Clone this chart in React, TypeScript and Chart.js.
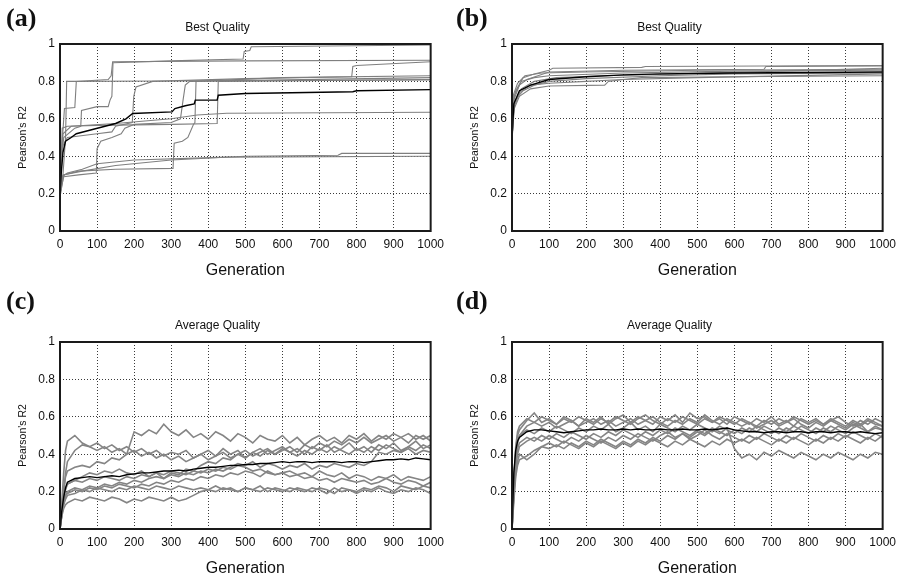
import React, { useEffect, useRef } from "react";
import { Chart, registerables } from "chart.js";

Chart.register(...registerables);

const FONT = "'Liberation Sans', Arial, sans-serif";

// ---------- Panel (a): Best Quality (runs as [generation, R2] pairs) ----------
const aMean = [[0,0.2],[3,0.3],[8,0.42],[15,0.48],[30,0.5],[44,0.52],[98,0.548],[150,0.575],[178,0.6],[196,0.628],[302,0.637],[310,0.655],[338,0.67],[362,0.68],[365,0.70],[424,0.70],[427,0.726],[500,0.735],[790,0.745],[800,0.75],[1000,0.756]];
const aRun1 = [[0,0.2],[8,0.3],[15,0.5],[18,0.8],[300,0.802],[700,0.805],[1000,0.808]];
const aRun2 = [[0,0.15],[5,0.4],[10,0.5],[40,0.55],[56,0.56],[58,0.645],[100,0.665],[130,0.665],[135,0.70],[140,0.72],[143,0.9],[300,0.91],[494,0.92],[497,0.96],[512,0.965],[516,0.985],[1000,0.995]];
const aRun3 = [[0,0.22],[5,0.45],[12,0.655],[40,0.66],[44,0.8],[130,0.81],[138,0.83],[142,0.905],[500,0.91],[1000,0.913]];
const aRun4 = [[0,0.2],[6,0.45],[20,0.5],[100,0.52],[140,0.53],[150,0.56],[195,0.58],[199,0.72],[205,0.77],[250,0.8],[500,0.815],[787,0.825],[790,0.88],[800,0.885],[1000,0.905]];
const aRun5 = [[0,0.18],[10,0.3],[50,0.32],[150,0.33],[305,0.335],[308,0.47],[330,0.48],[345,0.5],[360,0.57],[364,0.58],[367,0.8],[600,0.82],[1000,0.83]];
const aRun6 = [[0,0.2],[10,0.29],[50,0.3],[98,0.31],[100,0.44],[110,0.48],[140,0.5],[165,0.52],[175,0.55],[200,0.57],[300,0.58],[325,0.6],[332,0.7],[338,0.78],[350,0.8],[1000,0.82]];
const aRun7 = [[0,0.2],[6,0.55],[20,0.56],[100,0.565],[300,0.57],[424,0.575],[427,0.8],[1000,0.81]];
const aRun8 = [[0,0.22],[8,0.52],[30,0.56],[150,0.575],[300,0.6],[370,0.62],[450,0.63],[1000,0.635]];
const aRun9 = [[0,0.17],[5,0.29],[20,0.31],[60,0.33],[100,0.36],[200,0.38],[450,0.395],[1000,0.40]];
const aRun10 = [[0,0.2],[8,0.3],[60,0.32],[150,0.35],[300,0.38],[500,0.4],[750,0.405],[760,0.415],[1000,0.415]];

// ---------- Panel (b): Best Quality ----------
const bMean = [[0,0.5],[5,0.68],[20,0.75],[50,0.78],[100,0.81],[200,0.825],[300,0.835],[400,0.84],[600,0.845],[1000,0.85]];
const bRun1 = [[0,0.5],[3,0.68],[10,0.75],[30,0.82],[60,0.84],[100,0.86],[110,0.87],[350,0.875],[360,0.88],[1000,0.885]];
const bRun2 = [[0,0.52],[5,0.7],[20,0.78],[40,0.81],[100,0.85],[300,0.86],[680,0.865],[685,0.88],[1000,0.883]];
const bRun3 = [[0,0.48],[5,0.65],[20,0.72],[50,0.76],[100,0.775],[250,0.78],[260,0.8],[300,0.81],[350,0.82],[600,0.825],[1000,0.83]];
const bRun4 = [[0,0.55],[5,0.72],[25,0.8],[60,0.82],[100,0.83],[300,0.845],[600,0.855],[1000,0.86]];
const bRun5 = [[0,0.5],[8,0.7],[30,0.75],[60,0.78],[100,0.8],[200,0.815],[400,0.83],[600,0.84],[1000,0.845]];
const bRun6 = [[0,0.53],[4,0.73],[15,0.79],[35,0.83],[80,0.845],[200,0.85],[500,0.86],[1000,0.865]];
const bRun7 = [[0,0.5],[6,0.68],[20,0.74],[50,0.78],[100,0.79],[200,0.8],[300,0.81],[500,0.82],[1000,0.84]];
const bRun8 = [[0,0.47],[5,0.66],[25,0.76],[60,0.8],[120,0.82],[250,0.83],[450,0.84],[1000,0.87]];

// ---------- Panels (c), (d): Average Quality, sampled generations ----------
const noisyGens = [0,5,10,15,
  20,40,60,80,100,120,140,160,180,200,
  220,240,260,280,300,320,340,360,380,400,
  420,440,460,480,500,520,540,560,580,600,
  620,640,660,680,700,720,740,760,780,800,
  820,840,860,880,900,920,940,960,980,1000];

const cMean = [0,0.10,0.17,0.22,
  0.25,0.27,0.275,0.28,0.275,0.28,0.285,0.28,0.29,0.295,
  0.30,0.30,0.305,0.31,0.31,0.315,0.31,0.32,0.325,0.33,
  0.33,0.335,0.34,0.34,0.345,0.345,0.35,0.35,0.355,0.36,
  0.355,0.36,0.36,0.355,0.36,0.36,0.36,0.355,0.36,0.36,
  0.355,0.36,0.365,0.37,0.37,0.375,0.37,0.38,0.375,0.37];
const cRun1 = [0,0.15,0.3,0.42,
  0.47,0.50,0.46,0.44,0.46,0.43,0.45,0.42,0.44,0.41,
  0.43,0.40,0.42,0.39,0.41,0.40,0.42,0.38,0.40,0.42,
  0.39,0.43,0.40,0.42,0.38,0.41,0.43,0.40,0.42,0.44,
  0.41,0.43,0.40,0.44,0.42,0.45,0.41,0.43,0.46,0.42,
  0.44,0.41,0.45,0.43,0.46,0.42,0.44,0.47,0.43,0.45];
const cRun2 = [0,0.12,0.22,0.28,
  0.31,0.33,0.34,0.33,0.36,0.35,0.38,0.37,0.40,0.52,
  0.50,0.53,0.51,0.56,0.52,0.50,0.53,0.49,0.51,0.48,
  0.52,0.50,0.47,0.51,0.49,0.46,0.50,0.48,0.47,0.50,
  0.46,0.49,0.45,0.48,0.50,0.47,0.49,0.46,0.50,0.48,
  0.51,0.47,0.50,0.48,0.51,0.49,0.46,0.50,0.48,0.50];
const cRun3 = [0,0.08,0.18,0.30,
  0.36,0.42,0.45,0.44,0.42,0.44,0.41,0.43,0.40,0.42,
  0.39,0.41,0.38,0.40,0.37,0.39,0.36,0.38,0.40,0.37,
  0.39,0.41,0.38,0.40,0.42,0.39,0.41,0.43,0.40,0.42,
  0.44,0.41,0.45,0.43,0.46,0.44,0.47,0.45,0.48,0.46,
  0.49,0.46,0.48,0.50,0.47,0.49,0.51,0.48,0.50,0.47];
const cRun4 = [0,0.08,0.14,0.18,
  0.20,0.22,0.21,0.23,0.22,0.24,0.23,0.25,0.24,0.26,
  0.25,0.27,0.28,0.27,0.30,0.29,0.32,0.31,0.34,0.36,
  0.35,0.38,0.37,0.40,0.38,0.41,0.39,0.42,0.40,0.43,
  0.41,0.39,0.42,0.40,0.43,0.41,0.44,0.42,0.40,0.43,
  0.41,0.44,0.42,0.45,0.43,0.41,0.44,0.42,0.45,0.43];
const cRun5 = [0,0.09,0.15,0.18,
  0.19,0.21,0.20,0.22,0.21,0.23,0.22,0.24,0.23,0.22,
  0.24,0.23,0.25,0.24,0.26,0.25,0.27,0.26,0.28,0.27,
  0.29,0.28,0.30,0.29,0.31,0.30,0.28,0.31,0.29,0.30,
  0.31,0.29,0.30,0.28,0.31,0.29,0.28,0.30,0.27,0.29,
  0.28,0.26,0.28,0.27,0.29,0.26,0.28,0.27,0.26,0.28];
const cRun6 = [0,0.07,0.11,0.13,
  0.14,0.16,0.15,0.17,0.16,0.15,0.17,0.16,0.14,0.16,
  0.15,0.17,0.16,0.15,0.17,0.15,0.16,0.18,0.20,0.21,
  0.20,0.22,0.21,0.20,0.22,0.21,0.20,0.22,0.21,0.20,
  0.22,0.21,0.20,0.22,0.21,0.19,0.22,0.20,0.21,0.19,
  0.21,0.20,0.22,0.20,0.19,0.21,0.20,0.22,0.21,0.19];
const cRun7 = [0,0.08,0.13,0.16,
  0.18,0.19,0.21,0.20,0.22,0.21,0.20,0.22,0.21,0.23,
  0.22,0.21,0.23,0.22,0.21,0.23,0.22,0.21,0.22,0.21,
  0.23,0.21,0.22,0.20,0.22,0.21,0.23,0.20,0.22,0.21,
  0.20,0.22,0.21,0.20,0.22,0.21,0.19,0.22,0.21,0.20,
  0.22,0.21,0.23,0.22,0.20,0.23,0.22,0.21,0.23,0.22];
const cRun8 = [0,0.1,0.18,0.22,
  0.24,0.26,0.28,0.30,0.29,0.31,0.30,0.32,0.30,0.29,
  0.31,0.28,0.30,0.27,0.29,0.28,0.30,0.29,0.31,0.30,
  0.32,0.31,0.33,0.35,0.34,0.36,0.33,0.35,0.34,0.32,
  0.34,0.33,0.35,0.32,0.34,0.33,0.35,0.34,0.33,0.35,
  0.34,0.36,0.41,0.40,0.42,0.41,0.43,0.40,0.42,0.41];
const cRun9 = [0,0.1,0.17,0.21,
  0.24,0.26,0.25,0.27,0.26,0.28,0.27,0.26,0.28,0.27,
  0.29,0.28,0.30,0.29,0.31,0.30,0.29,0.31,0.30,0.32,
  0.31,0.33,0.32,0.34,0.33,0.31,0.32,0.30,0.29,0.30,
  0.28,0.29,0.27,0.28,0.26,0.27,0.25,0.27,0.26,0.25,
  0.26,0.24,0.25,0.27,0.25,0.24,0.26,0.25,0.23,0.25];

const dMean = [0,0.3,0.42,0.47,
  0.49,0.52,0.53,0.53,0.525,0.52,0.515,0.52,0.525,0.53,
  0.53,0.535,0.53,0.53,0.535,0.53,0.535,0.53,0.53,0.535,
  0.53,0.53,0.535,0.53,0.53,0.535,0.53,0.535,0.54,0.53,
  0.525,0.52,0.52,0.515,0.52,0.52,0.515,0.52,0.52,0.515,
  0.52,0.52,0.515,0.52,0.52,0.515,0.52,0.515,0.51,0.515];
const dRun1 = [0,0.25,0.42,0.5,
  0.53,0.58,0.62,0.57,0.59,0.56,0.60,0.58,0.55,0.59,
  0.57,0.60,0.56,0.59,0.61,0.57,0.60,0.58,0.56,0.60,
  0.58,0.61,0.57,0.62,0.59,0.60,0.57,0.59,0.56,0.60,
  0.58,0.56,0.59,0.57,0.60,0.56,0.58,0.55,0.59,0.57,
  0.59,0.56,0.58,0.60,0.57,0.55,0.58,0.56,0.59,0.57];
const dRun2 = [0,0.2,0.38,0.46,
  0.5,0.55,0.57,0.55,0.57,0.54,0.56,0.58,0.55,0.57,
  0.59,0.56,0.58,0.55,0.57,0.59,0.56,0.58,0.60,0.57,
  0.55,0.58,0.56,0.59,0.57,0.61,0.58,0.56,0.59,0.57,
  0.55,0.57,0.54,0.56,0.58,0.55,0.57,0.59,0.56,0.54,
  0.57,0.55,0.58,0.56,0.54,0.57,0.55,0.58,0.56,0.55];
const dRun3 = [0,0.28,0.4,0.47,
  0.5,0.53,0.51,0.54,0.52,0.55,0.53,0.51,0.54,0.52,
  0.55,0.53,0.56,0.52,0.54,0.57,0.53,0.55,0.52,0.56,
  0.54,0.52,0.55,0.53,0.56,0.54,0.52,0.55,0.53,0.51,
  0.54,0.52,0.55,0.53,0.51,0.54,0.52,0.55,0.53,0.51,
  0.54,0.52,0.55,0.53,0.51,0.54,0.56,0.52,0.54,0.53];
const dRun4 = [0,0.2,0.33,0.4,
  0.44,0.47,0.49,0.47,0.50,0.48,0.46,0.49,0.47,0.50,
  0.48,0.46,0.49,0.47,0.50,0.48,0.51,0.49,0.47,0.50,
  0.52,0.49,0.51,0.48,0.50,0.53,0.50,0.48,0.51,0.49,
  0.47,0.50,0.48,0.51,0.49,0.47,0.50,0.48,0.51,0.49,
  0.47,0.50,0.48,0.51,0.49,0.52,0.50,0.48,0.51,0.49];
const dRun5 = [0,0.18,0.3,0.36,
  0.40,0.37,0.40,0.44,0.46,0.44,0.47,0.45,0.43,0.46,
  0.44,0.47,0.45,0.43,0.46,0.44,0.47,0.45,0.48,0.46,
  0.44,0.47,0.45,0.48,0.46,0.44,0.47,0.45,0.48,0.46,
  0.48,0.46,0.49,0.47,0.45,0.48,0.46,0.49,0.47,0.45,
  0.48,0.46,0.49,0.47,0.50,0.48,0.46,0.49,0.47,0.50];
const dRun6 = [0,0.15,0.28,0.34,
  0.37,0.39,0.42,0.44,0.43,0.45,0.43,0.46,0.44,0.47,
  0.45,0.48,0.46,0.44,0.47,0.45,0.48,0.46,0.49,0.47,
  0.50,0.48,0.51,0.49,0.52,0.50,0.53,0.51,0.54,0.43,
  0.38,0.40,0.37,0.41,0.39,0.42,0.40,0.38,0.41,0.39,
  0.37,0.40,0.38,0.41,0.39,0.37,0.40,0.38,0.41,0.40];
const dRun7 = [0,0.22,0.36,0.43,
  0.46,0.49,0.47,0.50,0.48,0.51,0.49,0.52,0.50,0.48,
  0.51,0.49,0.52,0.50,0.53,0.51,0.49,0.52,0.50,0.53,
  0.51,0.54,0.52,0.50,0.53,0.51,0.54,0.52,0.50,0.53,
  0.51,0.54,0.52,0.55,0.53,0.51,0.54,0.52,0.55,0.53,
  0.51,0.54,0.52,0.55,0.53,0.56,0.54,0.52,0.55,0.53];
const dRun8 = [0,0.26,0.44,0.52,
  0.55,0.59,0.57,0.60,0.58,0.56,0.59,0.57,0.60,0.58,
  0.56,0.59,0.57,0.60,0.58,0.56,0.59,0.61,0.58,0.56,
  0.59,0.57,0.60,0.58,0.56,0.59,0.57,0.60,0.58,0.56,
  0.59,0.57,0.55,0.58,0.56,0.59,0.57,0.60,0.58,0.56,
  0.58,0.56,0.59,0.57,0.55,0.58,0.56,0.59,0.57,0.55];

const xTicks = [0, 100, 200, 300, 400, 500, 600, 700, 800, 900, 1000];
const yTicks = [0, 0.2, 0.4, 0.6, 0.8, 1];

const pairsToXY = (pairs: number[][]) => pairs.map(([x, y]) => ({ x, y }));
const zipXY = (gens: number[], vals: number[]) => vals.map((y, i) => ({ x: gens[i], y }));

const framePlugin = {
  id: "frame",
  afterDatasetsDraw(chart: any) {
    const { ctx, chartArea } = chart;
    const { left, top, right, bottom } = chartArea;
    ctx.save();
    ctx.strokeStyle = "#1a1a1a";
    ctx.lineWidth = 2;
    ctx.strokeRect(left, top, right - left, bottom - top);
    ctx.restore();
  },
};

function lineSet(data: any[], mean: boolean, grayWidth: number, grayColor: string) {
  return {
    data,
    borderColor: mean ? "#000000" : grayColor,
    borderWidth: mean ? 1.4 : grayWidth,
    pointRadius: 0,
    fill: false,
    tension: 0,
  };
}

function Panel(props: { left: number; top: number; title: string; datasets: any[] }) {
  const ref = useRef<HTMLCanvasElement | null>(null);
  useEffect(() => {
    if (!ref.current) return;
    const chart = new Chart(ref.current, {
      type: "line",
      data: { datasets: props.datasets },
      options: {
        animation: false,
        responsive: false,
        devicePixelRatio: 1,
        layout: { padding: { left: 0, right: 15, top: 0, bottom: 0 } },
        plugins: {
          legend: { display: false },
          tooltip: { enabled: false },
          title: {
            display: true,
            text: props.title,
            color: "#111",
            font: { family: FONT, size: 12, weight: "normal" },
            padding: { top: 20, bottom: 9.6 },
          },
        },
        scales: {
          x: {
            type: "linear",
            min: 0,
            max: 1000,
            afterBuildTicks: (s: any) => { s.ticks = xTicks.map((v) => ({ value: v })); },
            ticks: {
              color: "#111",
              font: { family: FONT, size: 12 },
              padding: 6,
              maxRotation: 0,
              autoSkip: false,
              callback: (v: any) => String(v),
            },
            grid: { color: "#3a3a3a", lineWidth: 1, drawTicks: false },
            border: { display: false, dash: [1, 2] },
            title: {
              display: true,
              text: "Generation",
              color: "#111",
              font: { family: FONT, size: 16 },
              padding: { top: 0, bottom: 10 },
            },
            afterFit: (s: any) => { s.height = 59; },
          },
          y: {
            type: "linear",
            min: 0,
            max: 1,
            afterBuildTicks: (s: any) => { s.ticks = yTicks.map((v) => ({ value: v })); },
            ticks: {
              color: "#111",
              font: { family: FONT, size: 12 },
              padding: 5,
              callback: (v: any) => String(v),
            },
            grid: { color: "#3a3a3a", lineWidth: 1, drawTicks: false },
            border: { display: false, dash: [1, 2] },
            title: {
              display: true,
              text: "Pearson's R2",
              color: "#111",
              font: { family: FONT, size: 10.5 },
              padding: { top: 16.7, bottom: 0 },
            },
            afterFit: (s: any) => { s.width = 60; },
          },
        },
      },
      plugins: [framePlugin],
    } as any);
    return () => chart.destroy();
  }, []);
  return (
    <canvas
      ref={ref}
      width={450}
      height={290}
      style={{ position: "absolute", left: props.left, top: props.top, width: 450, height: 290 }}
    />
  );
}

const labelStyle = (left: number, top: number): React.CSSProperties => ({
  position: "absolute",
  left,
  top,
  fontFamily: "'Liberation Serif', 'Times New Roman', serif",
  fontWeight: "bold",
  fontSize: 26,
  lineHeight: "26px",
  color: "#111",
});

export default function App() {
  const dsA = [
    lineSet(pairsToXY(aMean), true, 1, "#7f7f7f"),
    ...[aRun1, aRun2, aRun3, aRun4, aRun5, aRun6, aRun7, aRun8, aRun9, aRun10].map((r) => lineSet(pairsToXY(r), false, 1.1, "#7f7f7f")),
  ];
  const dsB = [
    lineSet(pairsToXY(bMean), true, 1, "#808080"),
    ...[bRun1, bRun2, bRun3, bRun4, bRun5, bRun6, bRun7, bRun8].map((r) => lineSet(pairsToXY(r), false, 1.1, "#808080")),
  ];
  const dsC = [
    lineSet(zipXY(noisyGens, cMean), true, 1.6, "#858585"),
    ...[cRun1, cRun2, cRun3, cRun4, cRun5, cRun6, cRun7, cRun8, cRun9].map((r) => lineSet(zipXY(noisyGens, r), false, 1.6, "#858585")),
  ];
  const dsD = [
    lineSet(zipXY(noisyGens, dMean), true, 1.6, "#858585"),
    ...[dRun1, dRun2, dRun3, dRun4, dRun5, dRun6, dRun7, dRun8].map((r) => lineSet(zipXY(noisyGens, r), false, 1.6, "#858585")),
  ];
  return (
    <div style={{ position: "fixed", left: 0, top: 0, width: 905, height: 577, overflow: "hidden", background: "#fff" }}>
      <Panel left={0} top={0} title="Best Quality" datasets={dsA} />
      <Panel left={452} top={0} title="Best Quality" datasets={dsB} />
      <Panel left={0} top={298} title="Average Quality" datasets={dsC} />
      <Panel left={452} top={298} title="Average Quality" datasets={dsD} />
      <div style={labelStyle(6, 5)}>(a)</div>
      <div style={labelStyle(456, 5)}>(b)</div>
      <div style={labelStyle(6, 288)}>(c)</div>
      <div style={labelStyle(456, 288)}>(d)</div>
    </div>
  );
}
